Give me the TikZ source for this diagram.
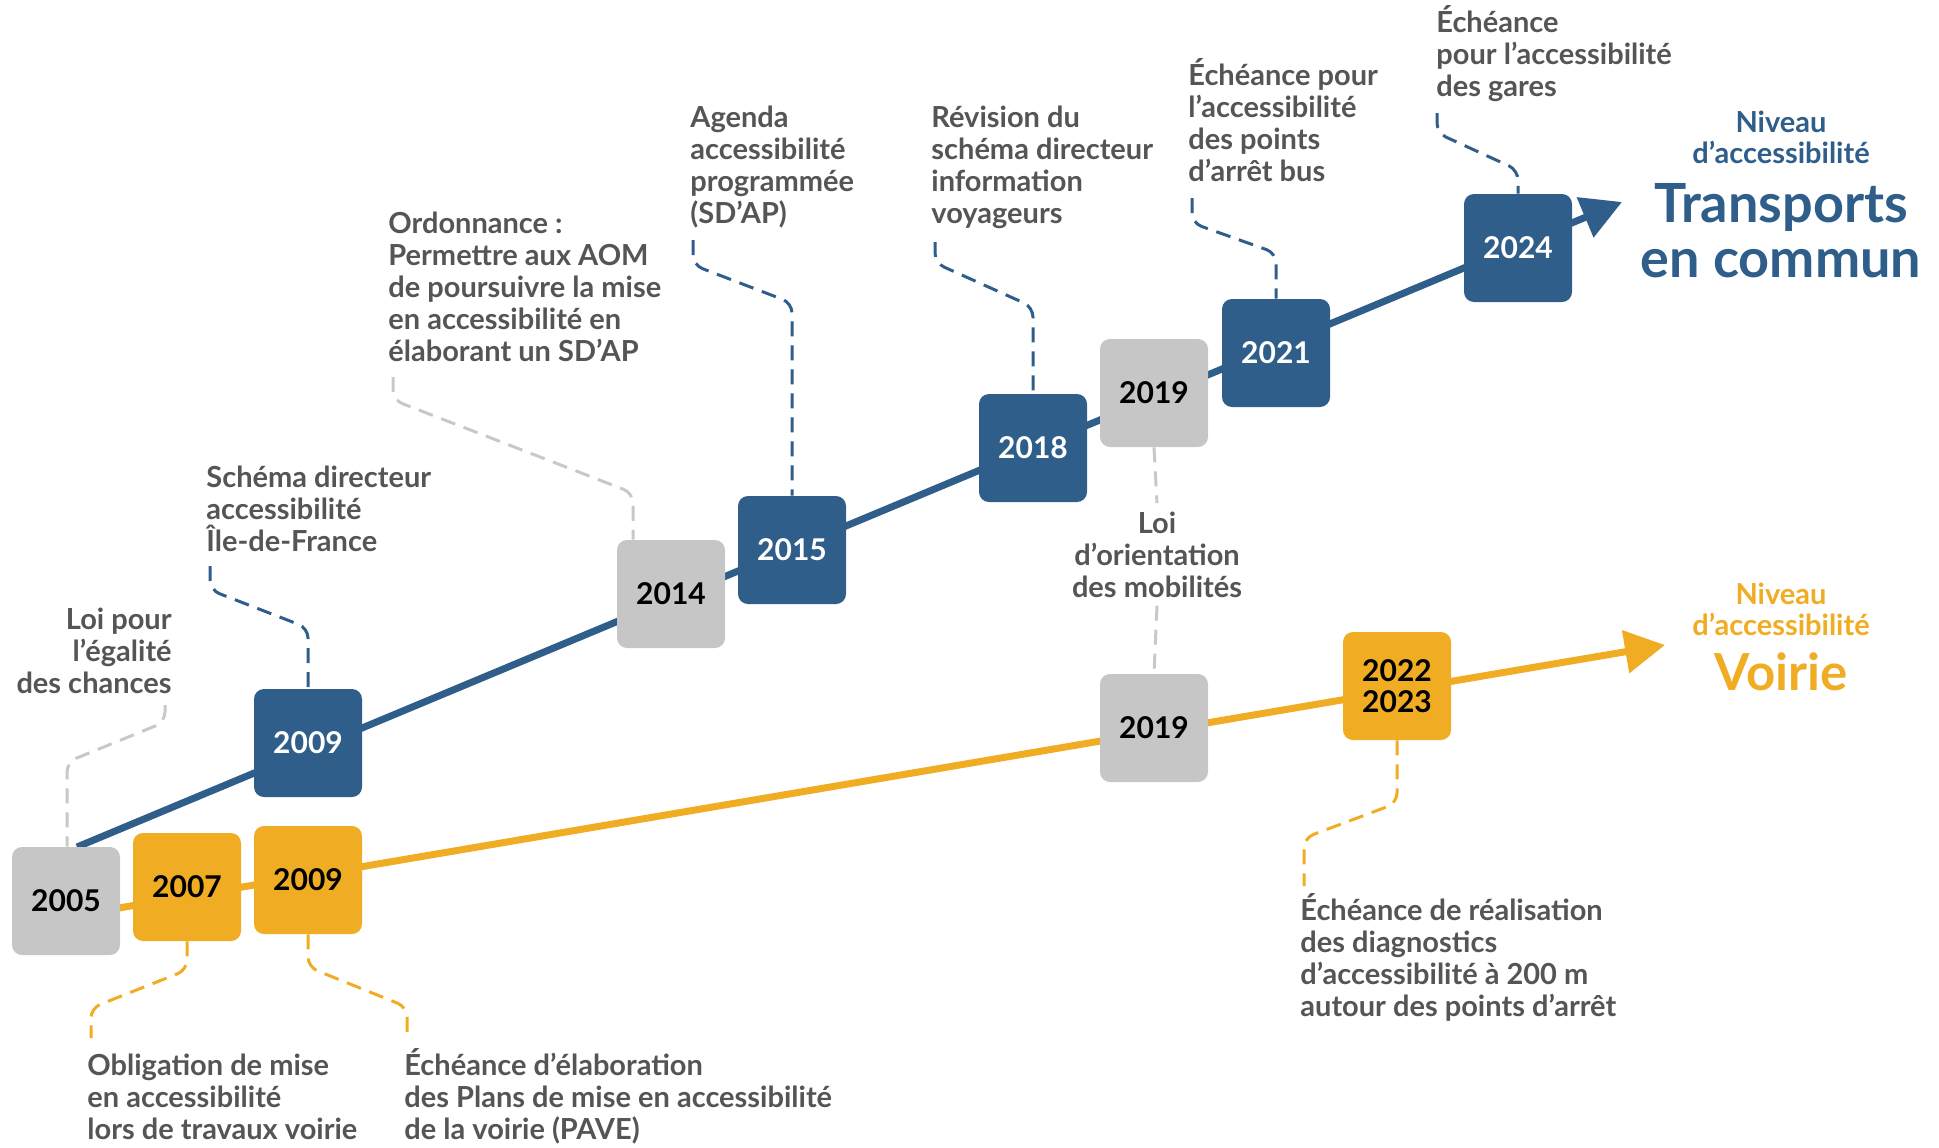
\documentclass[tikz,border=0pt]{standalone}
\usepackage{fontspec}
\setmainfont{Lato}
\usepackage{xcolor}
\usetikzlibrary{arrows.meta,backgrounds}
\definecolor{tcblue}{RGB}{47,94,138}
\definecolor{voirieorange}{RGB}{240,172,34}
\definecolor{yeargrey}{RGB}{198,198,198}
\definecolor{labelgrey}{RGB}{85,85,85}
\definecolor{dashgrey}{RGB}{200,200,200}

\begin{document}
\begin{tikzpicture}[
    x=0.5pt, y=-0.5pt,
    year/.style={rectangle, rounded corners=5pt, minimum width=54pt, minimum height=54pt, align=center, inner sep=0pt, font=\fontsize{15}{15.5}\selectfont\bfseries},
    tcyear/.style={year, fill=tcblue, text=white},
    vyear/.style={year, fill=voirieorange, text=black},
    gyear/.style={year, fill=yeargrey, text=black},
    evt/.style={inner sep=0pt, align=left, text=labelgrey, font=\fontsize{14.5}{16}\selectfont\bfseries},
    lien/.style={line width=1.5pt, dash pattern=on 7.5pt off 4.5pt, rounded corners=5pt},
    axis/.style={line width=3.5pt, -{Triangle[length=20pt,width=21pt]}}
]
\useasboundingbox (0,0) rectangle (1939,1147);

% Year boxes
\node[gyear] (y2005) at (66,901) {2005};
\node[vyear] (y2007) at (187,887) {2007};
\node[vyear] (v2009) at (308,880) {2009};
\node[tcyear] (t2009) at (308,743) {2009};
\node[gyear] (y2014) at (671,594) {2014};
\node[tcyear] (y2015) at (792,550) {2015};
\node[tcyear] (y2018) at (1033,448) {2018};
\node[gyear] (t2019) at (1154,393) {2019};
\node[tcyear] (y2021) at (1276,353) {2021};
\node[tcyear] (y2024) at (1518,248) {2024};
\node[gyear] (v2019) at (1154,728) {2019};
\node[vyear] (y2022) at (1397,686) {2022\\2023};

% Event texts (anchored on their last line)
\node[evt, align=right, anchor=base east] (egalite) at (172,693) {Loi pour\\l’égalité\\des chances};
\node[evt, anchor=base west] (sdidf) at (206,551) {Schéma directeur\\accessibilité\\Île-de-France};
\node[evt, anchor=base west] (ordo) at (388,361) {Ordonnance :\\Permettre aux AOM\\de poursuivre la mise\\en accessibilité en\\élaborant un SD’AP};
\node[evt, anchor=base west] (adap) at (690,223) {Agenda\\accessibilité\\programmée\\(SD’AP)};
\node[evt, anchor=base west] (sdiv) at (931,223) {Révision du\\schéma directeur\\information\\voyageurs};
\node[evt, anchor=base west] (bus) at (1188,181) {Échéance pour\\l’accessibilité\\des points\\d’arrêt bus};
\node[evt, anchor=base west] (gares) at (1436,96) {Échéance\\pour l’accessibilité\\des gares};
\node[evt, align=center, anchor=base, inner sep=4pt] (lom) at (1157,597) {Loi\\d’orientation\\des mobilités};
\node[evt, anchor=base west] (diag) at (1300,1016) {Échéance de réalisation\\des diagnostics\\d’accessibilité à 200 m\\autour des points d’arrêt};
\node[evt, anchor=base west] (travaux) at (87,1139) {Obligation de mise\\en accessibilité\\lors de travaux voirie};
\node[evt, anchor=base west] (pave) at (404,1139) {Échéance d’élaboration\\des Plans de mise en accessibilité\\de la voirie (PAVE)};

% Titles
\node[align=center, text=tcblue, font=\fontsize{14.5}{15.5}\selectfont\bfseries, anchor=base] (tcniv) at (1781,163) {Niveau\\d’accessibilité};
\node[align=center, text=tcblue, font=\fontsize{27}{27.5}\selectfont\bfseries, anchor=base] (tctitle) at (1781,277) {Transports\\en commun};
\node[align=center, text=voirieorange, font=\fontsize{14.5}{15.5}\selectfont\bfseries, anchor=base] (vniv) at (1781,635) {Niveau\\d’accessibilité};
\node[text=voirieorange, font=\fontsize{25.5}{26}\selectfont\bfseries, anchor=base] (vtitle) at (1781,690) {Voirie};

% Connector ends
\coordinate (tcstart) at (77,847);
\coordinate (tcend) at (1622,202);
\coordinate (vstart) at (66,917);
\coordinate (vend) at (1665,645);
\coordinate (c-egalite) at (165,705);
\coordinate (c-sdidf) at (210,566);
\coordinate (c-ordo) at (393,377);
\coordinate (c-adap) at (693,240);
\coordinate (c-sdiv) at (935,242);
\coordinate (c-bus) at (1192,198);
\coordinate (c-gares) at (1437,113);
\coordinate (c-diag) at (1304,886);
\coordinate (c-travaux) at (91,1038);
\coordinate (c-pave) at (407,1038);

\begin{scope}[on background layer]
% Timelines
\draw[axis, tcblue] (tcstart) -- (tcend);
\draw[axis, voirieorange] (vstart) -- (vend);

% Leaders
\draw[lien, dashgrey] (c-egalite) -- (165,722) -- (67,762) -- (y2005.north -| 67,0);
\draw[lien, tcblue] (c-sdidf) -- (210,590) -- (308,628) -- (t2009.north);
\draw[lien, dashgrey] (c-ordo) -- (393,400) -- (633,493) -- (y2014.north -| 633,0);
\draw[lien, tcblue] (c-adap) -- (693,265) -- (792,303) -- (y2015.north);
\draw[lien, tcblue] (c-sdiv) -- (935,263) -- (1033,307) -- (y2018.north);
\draw[lien, tcblue] (c-bus) -- (1192,223) -- (1276,253) -- (y2021.north);
\draw[lien, tcblue] (c-gares) -- (1437,133) -- (1518,170) -- (y2024.north);
\draw[lien, dashgrey] (t2019.south) -- (lom.north);
\draw[lien, dashgrey] (lom.south) -- (v2019.north);
\draw[lien, voirieorange] (y2022.south) -- (1397,803) -- (1304,838) -- (c-diag);
\draw[lien, voirieorange] (y2007.south) -- (187,970) -- (91,1008) -- (c-travaux);
\draw[lien, voirieorange] (v2009.south) -- (308,967) -- (407,1007) -- (c-pave);
\end{scope}

\end{tikzpicture}
\end{document}
